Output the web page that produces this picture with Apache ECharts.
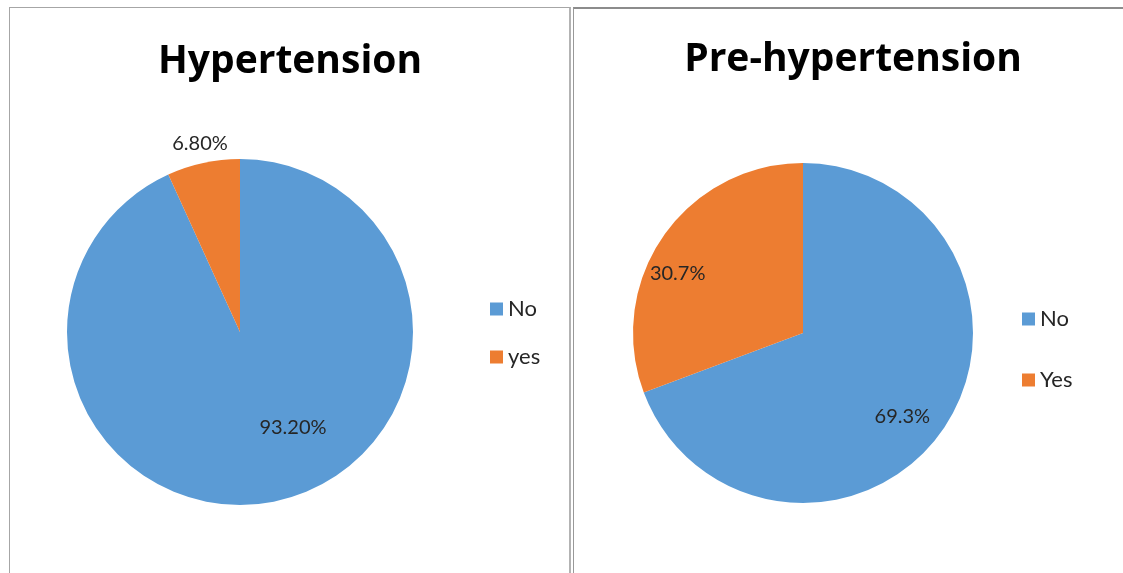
<!DOCTYPE html>
<html lang="en">
  <head>
    <meta charset="UTF-8" />
    <title>Hypertension</title>
    <script src="https://cdn.jsdelivr.net/npm/echarts@6/dist/echarts.min.js"></script>
    <style>
      body { margin: 0; background: #fff; }
      #main { position: absolute; left: 0; top: 0; width: 1123px; height: 573px; }
      .panel { position: absolute; box-sizing: border-box; pointer-events: none; }
      #p1 { left: 9px; top: 7px; width: 562px; height: 600px;
            border-left: 1px solid #a6a6a6; border-top: 1px solid #a6a6a6; border-right: 2px solid #b3b3b3; }
      #p2 { left: 573px; top: 7px; width: 600px; height: 600px;
            border-left: 1px solid #999; border-top: 2px solid #8c8c8c; }
    </style>
  </head>
  <body>
    <div id="main"></div>
    <div class="panel" id="p1"></div>
    <div class="panel" id="p2"></div>
    <script type="text/javascript">
      var myChart = echarts.init(document.getElementById('main'))

      // 数据
      var hyperNames = ['No', 'yes']
      var hyperValues = [93.2, 6.8]
      var hyperLabels = ['93.20%', '6.80%']

      var preNames = ['No', 'Yes']
      var preValues = [69.3, 30.7]
      var preLabels = ['69.3%', '30.7%']

      var colors = ['#5B9BD5', '#ED7D31']

      function toData(names, values, labels) {
        return names.map(function (n, i) {
          return { name: n, value: values[i], labelText: labels[i], itemStyle: { color: colors[i] } }
        })
      }

      // 标签微调（Excel 的 best fit 位置）
      var shift = [
        [[34, 8], [-21, -101]],
        [[27, 33], [-53, -9]]
      ]

      var labelFont = { fontFamily: 'Lato', fontSize: 20, color: '#262626' }

      function pieSeries(idx, names, values, labels, center, radius) {
        return {
          type: 'pie',
          name: idx === 0 ? 'Hypertension' : 'Pre-hypertension',
          center: center,
          radius: radius,
          startAngle: 90,
          clockwise: true,
          silent: true,
          label: Object.assign({
            show: true,
            position: 'inside',
            formatter: function (p) { return p.data.labelText }
          }, labelFont),
          labelLine: { show: false },
          labelLayout: function (p) {
            var s = shift[idx][p.dataIndex]
            return { dx: s[0], dy: s[1] }
          },
          data: toData(names, values, labels)
        }
      }

      var titleStyle = { fontFamily: 'Open Sans', fontWeight: 'bold', fontSize: 39, color: '#000' }
      var legendText = { fontFamily: 'Lato', fontSize: 22, color: '#262626', lineHeight: 22 }

      var option = {
        animation: false,
        title: [
          { text: 'Hypertension', left: 285, top: 37, textAlign: 'center', textStyle: titleStyle },
          { text: 'Pre-hypertension', left: 848, top: 35, textAlign: 'center', textStyle: titleStyle }
        ],
        legend: [
          {
            data: hyperNames, orient: 'vertical', left: 485, top: 293,
            icon: 'rect', itemWidth: 13, itemHeight: 13, itemGap: 26,
            selectedMode: false, textStyle: legendText, itemStyle: { borderWidth: 0 }
          },
          {
            data: preNames, orient: 'vertical', left: 1017, top: 303,
            icon: 'rect', itemWidth: 13, itemHeight: 13, itemGap: 39,
            selectedMode: false, textStyle: legendText, itemStyle: { borderWidth: 0 }
          }
        ],
        series: [
          pieSeries(0, hyperNames, hyperValues, hyperLabels, [240, 332], 173),
          pieSeries(1, preNames, preValues, preLabels, [803, 333], 170)
        ]
      }

      myChart.setOption(option)
    </script>
  </body>
</html>
